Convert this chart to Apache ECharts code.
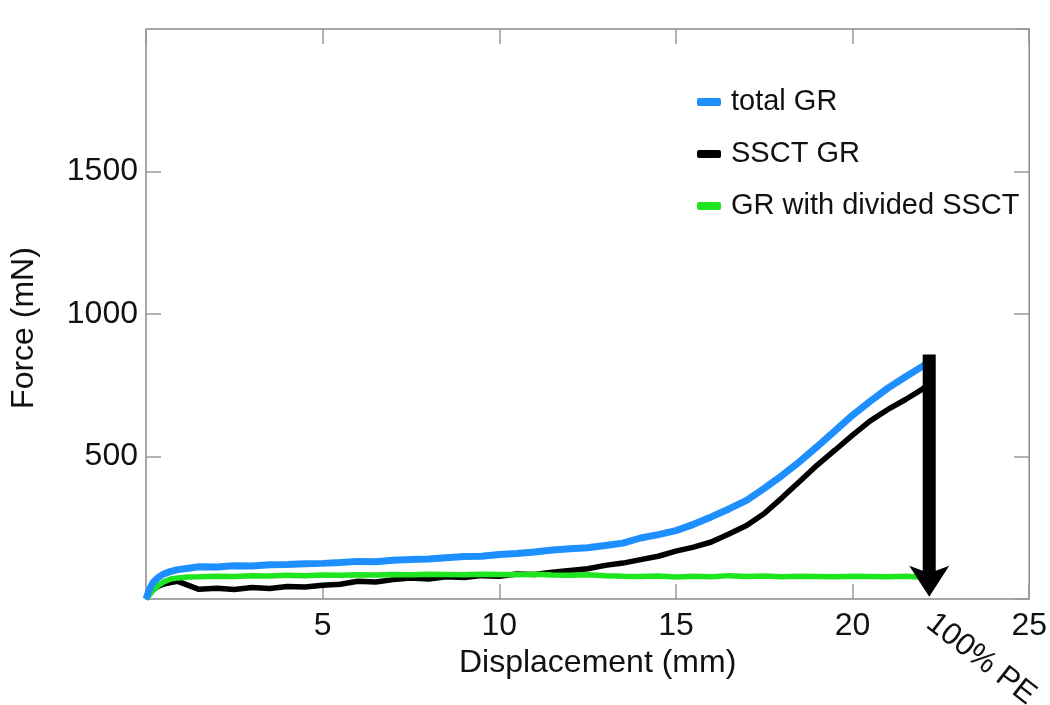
<!DOCTYPE html>
<html>
<head>
<meta charset="utf-8">
<script src="https://cdn.jsdelivr.net/npm/echarts@6/dist/echarts.min.js"></script>
<style>
html,body{margin:0;padding:0;background:#fff;}
#chart{width:1050px;height:705px;}
</style>
</head>
<body>
<div id="chart"></div>
<script>
// Displacement (mm)
const displacement = [0, 0.1, 0.2, 0.35, 0.5, 0.7, 0.9, 1.2, 1.5, 2, 2.5, 3, 3.5, 4, 4.5, 5, 5.5, 6, 6.5, 7, 7.5, 8, 8.5, 9, 9.5, 10, 10.5, 11, 11.5, 12, 12.5, 13, 13.5, 14, 14.5, 15, 15.5, 16, 16.5, 17, 17.5, 18, 18.5, 19, 19.5, 20, 20.5, 21, 21.5, 22, 22.15];
// Force (mN)
const totalGR = [0, 34, 58, 76, 88, 97, 103, 108, 113, 112, 117, 116, 120, 121, 124, 125, 128, 132, 131, 136, 139, 140, 145, 149, 150, 156, 160, 165, 172, 176, 180, 188, 196, 214, 226, 240, 262, 288, 316, 346, 388, 433, 482, 535, 590, 645, 694, 740, 780, 818, 835];
const ssctGR = [0, 18, 33, 45, 52, 58, 62, 48, 34, 38, 33, 40, 37, 44, 42, 48, 52, 62, 60, 68, 74, 70, 78, 75, 82, 80, 88, 86, 94, 100, 106, 118, 126, 138, 150, 168, 182, 200, 228, 258, 300, 355, 412, 470, 522, 575, 625, 665, 700, 738, 758];
const dividedGR = [0, 15, 30, 48, 60, 70, 74, 77, 78, 80, 79, 82, 81, 83, 82, 84, 83, 85, 84, 86, 85, 87, 86, 85, 87, 86, 85, 87, 84, 83, 85, 82, 80, 79, 81, 77, 80, 78, 82, 79, 81, 78, 80, 79, 78, 80, 79, 78, 80, 76, 75];
const seriesNames = ['total GR', 'SSCT GR', 'GR with divided SSCT'];
// 100% PE arrow: [displacement, top force, bottom force]
const arrowData = [[22.17, 858, 8]];
const xTicks = [5, 10, 15, 20, 25];
const yTicks = [500, 1000, 1500];

const pair = (ys) => displacement.map((x, i) => [x, ys[i]]);
const FONT = "'Liberation Sans', Arial, sans-serif";
const chart = echarts.init(document.getElementById('chart'));

const tickStyle = {show: true, inside: true, length: 15, lineStyle: {color: '#999', width: 1.5}};
const noLine = {show: false, onZero: false};
const option = {
  animation: false,
  backgroundColor: '#fff',
  textStyle: {fontFamily: FONT},
  grid: {left: 143, right: 19, top: 29, bottom: 106, show: true, borderColor: '#8a8a8a', borderWidth: 1.5, backgroundColor: 'transparent'},
  legend: {
    orient: 'vertical', left: 692, top: 82, itemGap: 22, itemWidth: 24, itemHeight: 8,
    icon: 'roundRect',
    data: seriesNames,
    textStyle: {fontSize: 29, color: '#111', fontFamily: FONT, lineHeight: 30, padding: [0, 0, 0, 5]}
  },
  xAxis: [
    {type: 'value', min: 0, max: 25, interval: 5, position: 'bottom',
     name: 'Displacement (mm)', nameLocation: 'middle', nameGap: 45,
     nameTextStyle: {fontSize: 32, color: '#111', fontFamily: FONT, padding: [0, 0, 0, 20]},
     axisLine: noLine, axisTick: tickStyle, splitLine: {show: false},
     axisLabel: {fontSize: 32, color: '#111', fontFamily: FONT, margin: 11, showMinLabel: false,
       formatter: v => xTicks.includes(v) ? String(v) : ''}},
    {type: 'value', min: 0, max: 25, interval: 5, position: 'top',
     axisLine: noLine, axisTick: tickStyle, splitLine: {show: false}, axisLabel: {show: false}}
  ],
  yAxis: [
    {type: 'value', min: 0, max: 2000, interval: 500, position: 'left',
     name: 'Force (mN)', nameLocation: 'middle', nameGap: 106,
     nameTextStyle: {fontSize: 32, color: '#111', fontFamily: FONT, padding: [0, 28, 0, 0]},
     axisLine: noLine, axisTick: tickStyle, splitLine: {show: false},
     axisLabel: {fontSize: 32, color: '#111', fontFamily: FONT, margin: 8, showMinLabel: false, showMaxLabel: false,
       formatter: v => yTicks.includes(v) ? String(v) : ''}},
    {type: 'value', min: 0, max: 2000, interval: 500, position: 'right',
     axisLine: noLine, axisTick: tickStyle, splitLine: {show: false}, axisLabel: {show: false}}
  ],
  series: [
    {name: seriesNames[1], type: 'line', data: pair(ssctGR), showSymbol: false, symbol: 'none',
     color: '#000', lineStyle: {color: '#000', width: 5.5}, z: 3},
    {name: seriesNames[2], type: 'line', data: pair(dividedGR), showSymbol: false, symbol: 'none',
     color: '#1ee61e', lineStyle: {color: '#1ee61e', width: 5.5}, z: 4},
    {name: seriesNames[0], type: 'line', data: pair(totalGR), showSymbol: false, symbol: 'none',
     color: '#1e8fff', lineStyle: {color: '#1e8fff', width: 7}, z: 5},
    {type: 'custom', data: arrowData, z: 10, silent: true,
     renderItem: function (params, api) {
       const top = api.coord([api.value(0), api.value(1)]);
       const tip = api.coord([api.value(0), api.value(2)]);
       const x = top[0];
       const headH = 31, headW = 20, shaftW = 6.5;
       return {type: 'group', children: [
         {type: 'rect', shape: {x: x - shaftW, y: top[1], width: shaftW * 2, height: tip[1] - headH + 6 - top[1]}, style: {fill: '#000'}},
         {type: 'polygon', shape: {points: [[x - shaftW, tip[1] - headH + 5], [x - headW, tip[1] - headH], [x, tip[1]], [x + headW, tip[1] - headH], [x + shaftW, tip[1] - headH + 5]]}, style: {fill: '#000'}}
       ]};
     }}
  ],
  graphic: [
    {type: 'text', x: 981, y: 659, rotation: -0.66,
     style: {text: '100% PE', font: "31px 'Liberation Sans', Arial, sans-serif", fill: '#111', align: 'center', verticalAlign: 'middle'}}
  ]
};
chart.setOption(option);
</script>
</body>
</html>
